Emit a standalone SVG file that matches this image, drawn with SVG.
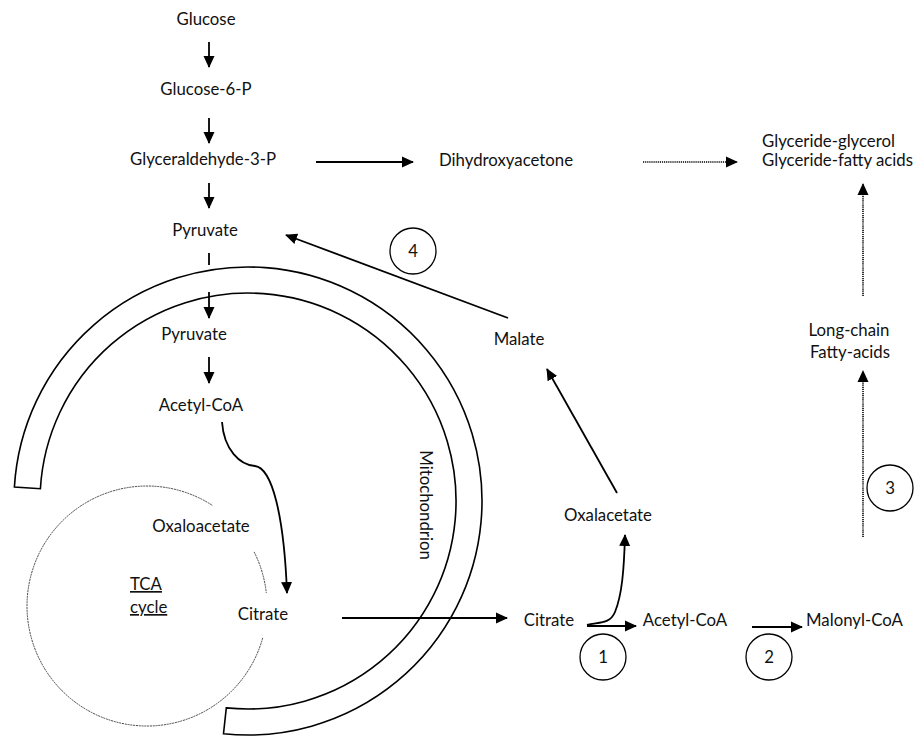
<svg xmlns="http://www.w3.org/2000/svg" width="924" height="739" viewBox="0 0 924 739">
<style>
text{font-family:Lato,"Liberation Sans",sans-serif;font-size:16.8px;fill:#111}
.m{text-anchor:middle}
.ln{stroke:#000;stroke-width:1.8;fill:none}
.dot{stroke:#000;stroke-width:1.6;fill:none;stroke-dasharray:1.2 0.9}
.cir{stroke:#000;stroke-width:1.3;fill:none}
.band{stroke:#000;stroke-width:1.6;fill:none}
.tca{stroke:#444;stroke-width:1;fill:none;stroke-dasharray:2 0.8}
</style>
<defs>
<marker id="ah" viewBox="0 0 12 12" refX="11" refY="6" markerWidth="12" markerHeight="12" markerUnits="userSpaceOnUse" orient="auto">
<path d="M0,0.5 L12,6 L0,11.5 Z" fill="#000"/>
</marker>
</defs>
<rect width="924" height="739" fill="#fff"/>
<g id="mitochondrion">
<path class="band" d="M14.4,487.1 A234,234 0 1 1 223.5,733.7 L226.3,707.9 A208,208 0 1 0 40.4,488.7 Z"/>
<text transform="translate(420,505) rotate(90)" class="m">Mitochondrion</text>
</g>
<g id="tca-cycle">
<path class="tca" d="M262.7,637.9 A120,120 0 1 1 212.7,505.6"/>
<path class="tca" d="M254.1,551.9 A120,120 0 0 1 266.3,593.0"/>
<text x="130" y="590" text-decoration="underline">TCA</text>
<text x="130" y="613" text-decoration="underline">cycle</text>
</g>
<g id="connectors">
<line class="ln" x1="209" y1="42" x2="209" y2="67" marker-end="url(#ah)"/>
<line class="ln" x1="209" y1="118" x2="209" y2="143" marker-end="url(#ah)"/>
<line class="ln" x1="209" y1="183" x2="209" y2="208" marker-end="url(#ah)"/>
<line class="ln" x1="209" y1="253" x2="209" y2="265"/>
<line class="ln" x1="209" y1="292" x2="209" y2="318" marker-end="url(#ah)"/>
<line class="ln" x1="209" y1="357" x2="209" y2="383" marker-end="url(#ah)"/>
<path class="ln" d="M222,422 C224,450 240,465 255,466 C272,468 284,515 287,593" marker-end="url(#ah)"/>
<line class="ln" x1="342" y1="618" x2="507" y2="618" marker-end="url(#ah)"/>
<line class="ln" x1="316" y1="162" x2="413" y2="162" marker-end="url(#ah)"/>
<line class="dot" x1="643" y1="162" x2="737" y2="162" marker-end="url(#ah)"/>
<line class="ln" x1="508" y1="318" x2="286" y2="235" marker-end="url(#ah)"/>
<line class="ln" x1="617" y1="493" x2="547" y2="369" marker-end="url(#ah)"/>
<path class="ln" d="M587,625 C600,622 610,624 615,612 C622,595 624,570 625,535" marker-end="url(#ah)"/>
<line class="ln" x1="587" y1="626" x2="636" y2="626" marker-end="url(#ah)"/>
<line class="ln" x1="752" y1="627" x2="802" y2="627" marker-end="url(#ah)"/>
<line class="dot" x1="863" y1="537" x2="863" y2="371" marker-end="url(#ah)"/>
<line class="dot" x1="863" y1="296" x2="863" y2="184" marker-end="url(#ah)"/>
</g>
<g id="n-glucose"><text x="206" y="25" class="m">Glucose</text></g>
<g id="n-g6p"><text x="206" y="95" class="m">Glucose-6-P</text></g>
<g id="n-g3p"><text x="203" y="165" class="m">Glyceraldehyde-3-P</text></g>
<g id="n-pyruvate"><text x="205" y="236" class="m">Pyruvate</text></g>
<g id="n-pyruvate-m"><text x="194" y="340" class="m">Pyruvate</text></g>
<g id="n-acetylcoa-m"><text x="201" y="411" class="m">Acetyl-CoA</text></g>
<g id="n-oxaloacetate"><text x="201" y="532" class="m">Oxaloacetate</text></g>
<g id="n-citrate-m"><text x="263" y="620" class="m">Citrate</text></g>
<g id="n-dhap"><text x="506" y="166" class="m">Dihydroxyacetone</text></g>
<g id="n-glyceride"><text x="762" y="147">Glyceride-glycerol</text><text x="762" y="166">Glyceride-fatty acids</text></g>
<g id="n-malate"><text x="519" y="345" class="m">Malate</text></g>
<g id="n-oxalacetate"><text x="608" y="521" class="m">Oxalacetate</text></g>
<g id="n-citrate"><text x="549" y="626" class="m">Citrate</text></g>
<g id="n-acetylcoa"><text x="685" y="626" class="m">Acetyl-CoA</text></g>
<g id="n-malonylcoa"><text x="806" y="626">Malonyl-CoA</text></g>
<g id="n-lcfa"><text x="849" y="336" class="m">Long-chain</text><text x="850" y="358" class="m">Fatty-acids</text></g>
<g id="c1"><circle class="cir" cx="603" cy="657" r="23"/><text x="603" y="663" class="m">1</text></g>
<g id="c2"><circle class="cir" cx="769" cy="657" r="23"/><text x="769" y="663" class="m">2</text></g>
<g id="c3"><circle class="cir" cx="890" cy="488" r="23"/><text x="890" y="494" class="m">3</text></g>
<g id="c4"><circle class="cir" cx="413" cy="251" r="23"/><text x="413" y="257" class="m">4</text></g>
</svg>
